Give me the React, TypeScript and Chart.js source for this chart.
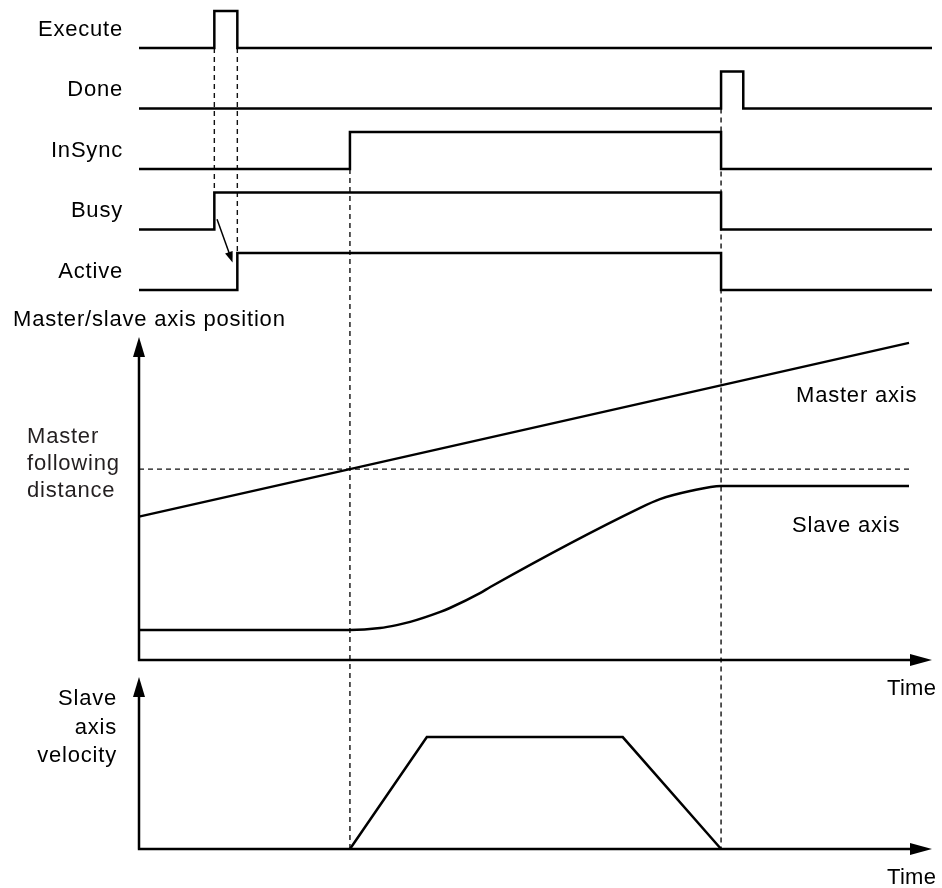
import React, { useEffect, useRef } from 'react';
import { Chart, registerables } from 'chart.js';

Chart.register(...registerables);

// ---- Data (time axis: 0 = left edge of traces, 100 = tip of the time arrow) ----
const signalNames = ['Execute', 'Done', 'InSync', 'Busy', 'Active'];
const executeTimes = [0, 9.5, 12.4, 100];
const executeLevels = [0, 1, 0, 0];
const doneTimes = [0, 73.4, 76.2, 100];
const doneLevels = [0, 1, 0, 0];
const inSyncTimes = [0, 26.6, 73.4, 100];
const inSyncLevels = [0, 1, 0, 0];
const busyTimes = [0, 9.5, 73.4, 100];
const busyLevels = [0, 1, 0, 0];
const activeTimes = [0, 12.4, 73.4, 100];
const activeLevels = [0, 1, 0, 0];

const masterTimes = [0, 26.6, 97.1];
const masterPos = [44.4, 59.1, 98.2];
const slaveTimes = [0, 26.6, 30.4, 32.5, 34.2, 38.0, 39.2, 43.0, 44.3, 63.2, 65.7, 69.5, 73.4, 97.1];
const slavePos = [9.3, 9.3, 9.9, 10.8, 11.8, 14.9, 16.1, 20.7, 22.6, 47.1, 49.8, 52.3, 53.9, 53.9];
const followingTimes = [0, 97.1];
const followingPos = [59.1, 59.1];

const velTimes = [26.6, 36.3, 61.0, 73.4];
const velValues = [0, 65.1, 65.1, 0];

const toPts = (xs: number[], ys: number[]) => xs.map((x, i) => ({ x, y: ys[i] }));

const FONT = '22px "Liberation Sans", Arial, Helvetica, sans-serif';

const sigData = [
  [executeTimes, executeLevels],
  [doneTimes, doneLevels],
  [inSyncTimes, inSyncLevels],
  [busyTimes, busyLevels],
  [activeTimes, activeLevels],
];

const drawArrowHead = (ctx: CanvasRenderingContext2D, tx: number, ty: number, fx: number, fy: number, len: number, half: number) => {
  const ang = Math.atan2(ty - fy, tx - fx);
  const bx = tx - len * Math.cos(ang);
  const by = ty - len * Math.sin(ang);
  const nx = -Math.sin(ang) * half;
  const ny = Math.cos(ang) * half;
  ctx.beginPath();
  ctx.moveTo(tx, ty);
  ctx.lineTo(bx + nx, by + ny);
  ctx.lineTo(bx - nx, by - ny);
  ctx.closePath();
  ctx.fill();
};

const diagramPlugin = {
  id: 'diagram',
  beforeDatasetsDraw(chart: any) {
    const ctx = chart.ctx as CanvasRenderingContext2D;
    const s = chart.scales;
    const x = s.x;
    ctx.save();
    ctx.strokeStyle = '#111';
    ctx.lineWidth = 1.4;
    ctx.setLineDash([5, 4]);
    const vlines: [number, string, number, string, number][] = [
      [executeTimes[1], 'ySig0', 0, 'ySig3', 1],
      [executeTimes[2], 'ySig0', 0, 'ySig4', 1],
      [inSyncTimes[1], 'ySig2', 0, 'yVel', 0],
      [doneTimes[1], 'ySig1', 0, 'yVel', 0],
    ];
    for (const [t, a1, v1, a2, v2] of vlines) {
      const px = x.getPixelForValue(t);
      ctx.beginPath();
      ctx.moveTo(px, s[a1].getPixelForValue(v1));
      ctx.lineTo(px, s[a2].getPixelForValue(v2));
      ctx.stroke();
    }
    ctx.restore();
  },
  afterDatasetsDraw(chart: any) {
    const ctx = chart.ctx as CanvasRenderingContext2D;
    const s = chart.scales;
    const x = s.x;
    const x0 = x.getPixelForValue(0);
    const xEnd = x.getPixelForValue(100);
    ctx.save();
    ctx.fillStyle = '#000';
    ctx.strokeStyle = '#000';
    ctx.lineWidth = 2.5;
    ctx.setLineDash([]);
    for (const id of ['yPos', 'yVel']) {
      const ax = s[id];
      const y0 = ax.getPixelForValue(0);
      const yTop = ax.getPixelForValue(100);
      ctx.beginPath();
      ctx.moveTo(x0, y0);
      ctx.lineTo(x0, yTop + 18);
      ctx.moveTo(x0 - 1.2, y0);
      ctx.lineTo(xEnd - 20, y0);
      ctx.stroke();
      drawArrowHead(ctx, x0, yTop, x0, y0, 20, 6);
      drawArrowHead(ctx, xEnd, y0, x0, y0, 22, 6);
    }
    // Busy -> Active arrow
    const ax1 = x.getPixelForValue(9.84);
    const ay1 = s.ySig3.getPixelForValue(0.28);
    const ax2 = x.getPixelForValue(11.8);
    const ay2 = s.ySig4.getPixelForValue(0.74);
    ctx.lineWidth = 1.5;
    ctx.beginPath();
    ctx.moveTo(ax1, ay1);
    const ang = Math.atan2(ay2 - ay1, ax2 - ax1);
    ctx.lineTo(ax2 - 8 * Math.cos(ang), ay2 - 8 * Math.sin(ang));
    ctx.stroke();
    drawArrowHead(ctx, ax2, ay2, ax1, ay1, 11, 4);

    // Texts
    ctx.font = FONT;
    (ctx as any).letterSpacing = '0.8px';
    ctx.textBaseline = 'alphabetic';
    ctx.textAlign = 'right';
    signalNames.forEach((name, i) => {
      const yLow = s['ySig' + i].getPixelForValue(0);
      ctx.fillText(name, 123, yLow - 12);
    });
    ctx.textAlign = 'left';
    ctx.fillText('Master/slave axis position', 13, s.yPos.getPixelForValue(100) - 11);
    ctx.fillText('Master axis', 796, 402);
    ctx.fillText('Slave axis', 792, 532);
    (ctx as any).letterSpacing = '0.3px';
    ctx.fillText('Time', 887, s.yPos.getPixelForValue(0) + 35);
    ctx.fillText('Time', 887, s.yVel.getPixelForValue(0) + 35);
    (ctx as any).letterSpacing = '0.8px';
    ctx.fillStyle = '#231f20';
    const fd = s.yPos.getPixelForValue(followingPos[0]);
    ctx.fillText('Master', 27, fd - 26);
    ctx.fillText('following', 27, fd + 1);
    ctx.fillText('distance', 27, fd + 28);
    ctx.fillStyle = '#000';
    ctx.textAlign = 'right';
    ctx.fillText('Slave', 117, 705);
    ctx.fillText('axis', 117, 734);
    ctx.fillText('velocity', 117, 762);
    ctx.restore();
  },
};

export default function App() {
  const ref = useRef<HTMLCanvasElement | null>(null);
  useEffect(() => {
    if (!ref.current) return;
    const sigScale = (i: number) => ({
      type: 'linear',
      display: false,
      position: 'right',
      stack: 'diagram',
      stackWeight: 60.5,
      weight: i,
      min: -0.338,
      max: 1.297,
    });
    const scales: any = {
      x: { type: 'linear', display: false, min: 0, max: 100 },
    };
    for (let i = 0; i < 5; i++) scales['ySig' + i] = sigScale(i);
    scales.yPos = { type: 'linear', display: false, position: 'right', stack: 'diagram', stackWeight: 367.5, weight: 5, min: -3.1, max: 110.7 };
    scales.yVel = { type: 'linear', display: false, position: 'right', stack: 'diagram', stackWeight: 210, weight: 6, min: -18.0, max: 104.1 };

    const base = { borderColor: '#000', borderWidth: 2.5, pointRadius: 0, fill: false, clip: false as any };
    const datasets: any[] = sigData.map(([t, v], i) => ({
      ...base,
      label: signalNames[i],
      data: toPts(t, v),
      yAxisID: 'ySig' + i,
      stepped: 'before',
      borderJoinStyle: 'miter',
    }));
    datasets.push({ ...base, label: 'Master axis', data: toPts(masterTimes, masterPos), yAxisID: 'yPos' });
    datasets.push({ ...base, label: 'Slave axis', data: toPts(slaveTimes, slavePos), yAxisID: 'yPos', cubicInterpolationMode: 'monotone' });
    datasets.push({ ...base, label: 'Master following distance', data: toPts(followingTimes, followingPos), yAxisID: 'yPos', borderWidth: 1.4, borderColor: '#111', borderDash: [5, 4] });
    datasets.push({ ...base, label: 'Slave axis velocity', data: toPts(velTimes, velValues), yAxisID: 'yVel' });

    const chart = new Chart(ref.current, {
      type: 'line',
      data: { datasets },
      options: {
        animation: false,
        responsive: true,
        maintainAspectRatio: false,
        parsing: false as any,
        layout: { padding: { left: 139, right: 10, top: 0, bottom: 8 } },
        scales,
        plugins: { legend: { display: false }, tooltip: { enabled: false } },
        events: [],
      } as any,
      plugins: [diagramPlugin],
    });
    return () => chart.destroy();
  }, []);
  return (
    <div style={{ position: 'absolute', left: 0, top: 0, width: 942, height: 888, background: '#fff' }}>
      <canvas ref={ref} />
    </div>
  );
}
